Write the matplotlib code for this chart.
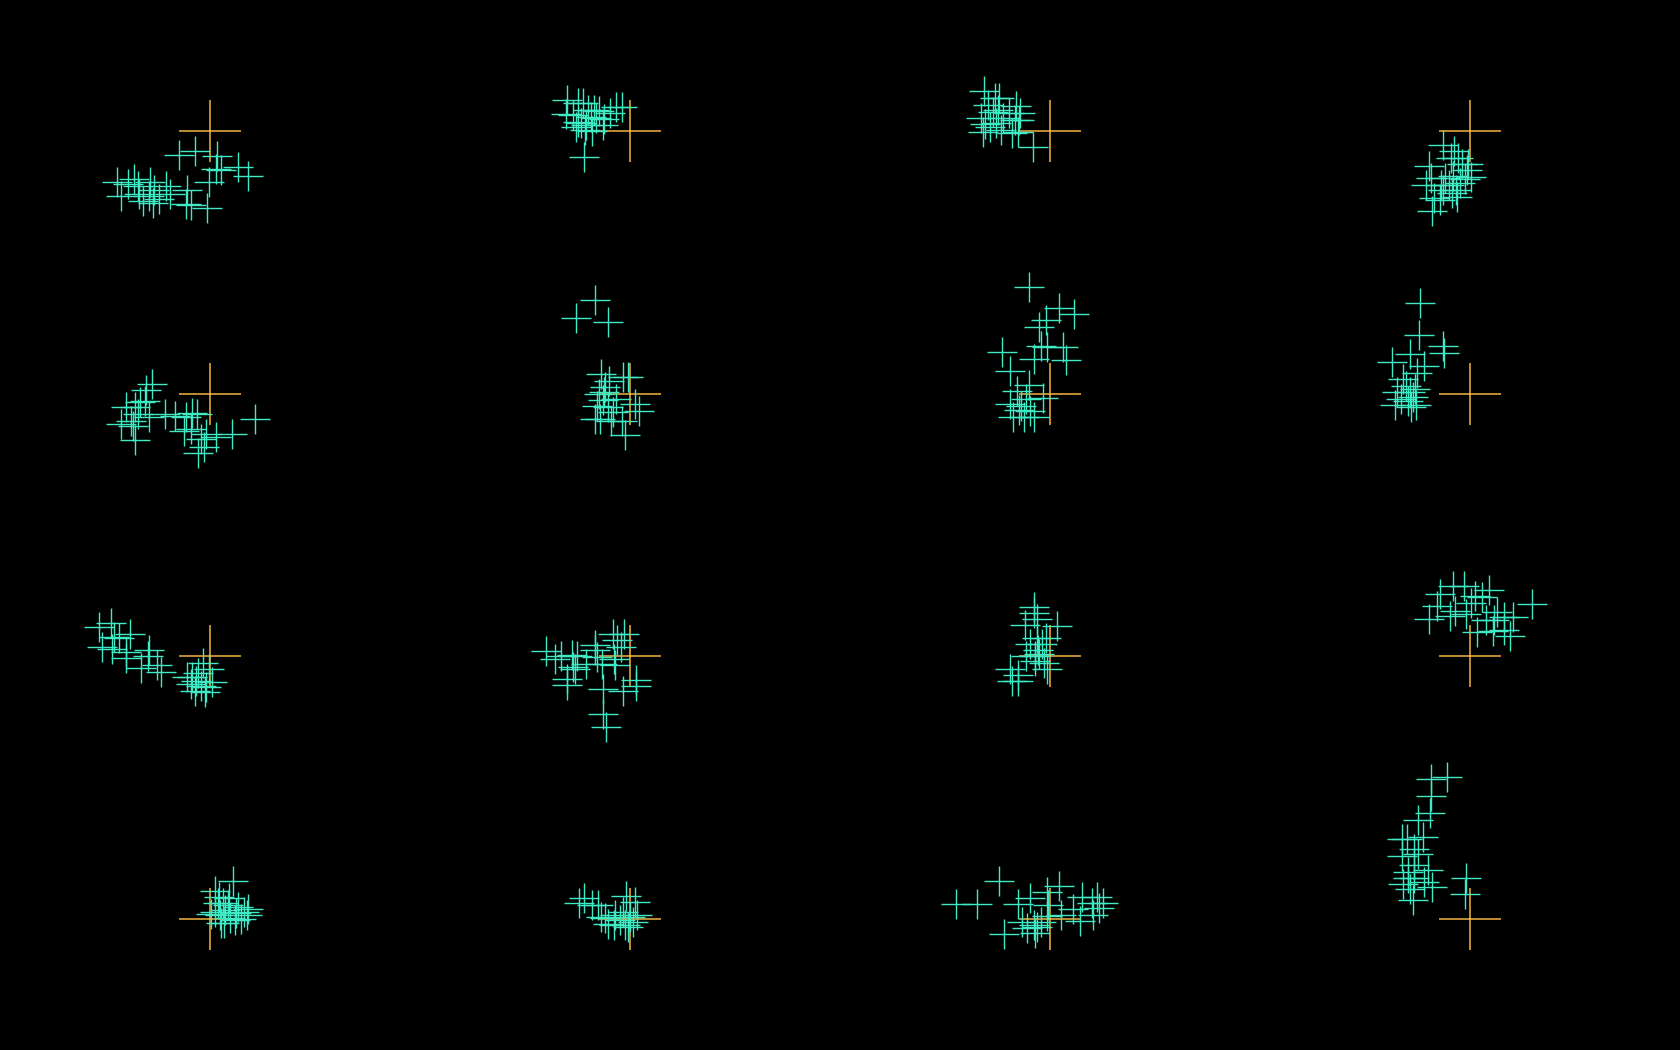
import matplotlib

matplotlib.use('agg')
import matplotlib.pyplot as plt
import numpy as np

# offsets of the hits from the target point (pixels), one list per panel
hits_r0c0 = [(-31, -24), (-15, -20), (7, -25), (6, -38), (11, -39), (28, -36), (38, -45),
             (-1, -51), (-23, -59), (-24, -73), (-19, -74), (-3, -77), (-93, -51), (-82, -53),
             (-76, -48), (-72, -55), (-60, -51), (-56, -59), (-44, -55), (-40, -63), (-89, -65),
             (-67, -70), (-61, -65), (-57, -72), (-51, -68), (-71, -63)]
hits_r0c1 = [(-46, -26), (-63, 31), (-64, 17), (-52, 28), (-47, 28), (-42, 21), (-36, 21),
             (-31, 20), (-14, 24), (-8, 24), (-20, 18), (-26, 12), (-49, 8), (-44, 6), (-38, 0),
             (-52, 9), (-54, 4), (-34, 13), (-27, 6), (-45, 1), (-57, 16), (-39, 14)]
hits_r0c2 = [(-17, -16), (-66, 40), (-55, 33), (-62, 26), (-51, 33), (-69, 13), (-65, 7),
             (-57, 19), (-52, 21), (-49, 1), (-38, -2), (-41, 18), (-34, 25), (-35, 11),
             (-31, 11), (-32, -1), (-60, 4), (-47, 13), (-30, 18), (-54, 8), (-67, -1)]
hits_r0c3 = [(-27, -14), (-16, -20), (-19, -27), (-12, -27), (-8, -33), (-2, -33), (1, -46),
             (-41, -35), (-44, -54), (-39, -47), (-29, -54), (-25, -47), (-21, -54), (-17, -45),
             (-14, -59), (-10, -52), (-38, -80), (-36, -67), (-30, -69), (-18, -62), (-13, -66),
             (-5, -48), (-3, -39), (-27, -59)]
hits_r1c0 = [(45, -25), (22, -40), (6, -43), (-6, -53), (-12, -59), (-18, -19), (-13, -20),
             (-24, -23), (-35, -22), (-45, -20), (-26, -37), (-19, -35), (-9, -45), (-4, -40),
             (-58, 10), (-64, 4), (-70, -8), (-75, -13), (-72, -20), (-79, -27), (-89, -30),
             (-75, -46), (-61, -23), (-65, -7), (-77, -32), (-84, -13)]
hits_r1c1 = [(-35, 94), (-54, 76), (-22, 72), (-29, 20), (-7, 17), (-2, 17), (-25, 7), (-31, 0),
             (-27, -6), (5, -10), (9, -17), (-35, -25), (-30, -25), (-19, -27), (-5, -41),
             (-8, -27), (-22, -13), (-17, -18), (-33, -12), (-21, 13), (-14, -5), (-26, 2)]
hits_r1c2 = [(-21, 107), (9, 86), (24, 80), (-4, 74), (-11, 67), (-48, 42), (-16, 35), (-9, 48),
             (-3, 47), (13, 47), (16, 34), (-40, 23), (-21, 9), (-7, -4), (-33, 3), (-40, -10),
             (-31, -16), (-26, -23), (-37, -23), (-16, -23), (-24, -5), (-29, -12), (-20, -17)]
hits_r1c3 = [(-50, 91), (-51, 59), (-27, 48), (-26, 41), (-78, 32), (-60, 40), (-46, 28),
             (-53, 21), (-73, 2), (-69, -5), (-64, 8), (-60, 2), (-57, -3), (-54, -11),
             (-67, 15), (-59, -13), (-75, -11), (-62, -7), (-55, 5)]
hits_r2c0 = [(-111, 29), (-99, 33), (-96, 19), (-80, 22), (-91, 18), (-108, 9), (-98, 7),
             (-84, -2), (-61, 6), (-62, 0), (-53, -9), (-69, -12), (-49, -16), (-84, 4),
             (-23, -21), (-18, -21), (-7, -7), (-1, -13), (2, -26), (-9, -30), (-5, -36),
             (-15, -35), (-12, -17), (-19, -28), (-14, -25), (-4, -31)]
hits_r2c1 = [(-24, -71), (-27, -33), (-27, -58), (-7, -35), (6, -30), (6, -24), (-84, 5),
             (-75, -3), (-69, 0), (-58, 1), (-53, 0), (-63, -23), (-63, -29), (-55, -13),
             (-57, -11), (-35, 11), (-33, -1), (-28, -8), (-17, 22), (-13, 16), (-9, 9),
             (-6, 22), (-16, -3), (-35, 6), (-44, -8), (-15, -9)]
hits_r2c2 = [(-16, 49), (-16, 43), (-13, 37), (-25, 31), (7, 30), (-13, 18), (-20, 12), (-8, 12),
             (-4, 18), (-12, 6), (-15, 0), (-24, 0), (-6, -7), (-3, -13), (-40, -13), (-32, -19),
             (-38, -25), (-32, -25), (-15, -5), (-11, 2)]
hits_r2c3 = [(62, 52), (-17, 70), (-6, 70), (-30, 62), (19, 66), (5, 60), (12, 59), (-41, 37),
             (-33, 50), (-15, 45), (-20, 40), (-4, 42), (1, 53), (7, 24), (16, 36), (27, 44),
             (34, 39), (43, 39), (23, 25), (34, 26), (40, 20), (24, 36)]
hits_r3c0 = [(23, 38), (5, 28), (9, 22), (13, 16), (19, 21), (38, 10), (37, 4), (28, 12), (34, 7),
             (14, -4), (20, 1), (25, -1), (10, 4), (15, 9), (5, 7), (26, 6), (18, 14), (8, 16),
             (11, -4), (1, 5), (31, 0)]
hits_r3c1 = [(-51, 16), (-46, 21), (-38, 14), (-32, 14), (-4, 23), (5, 17), (-29, 2), (-22, -5),
             (-15, 4), (-10, -1), (-5, -6), (0, 2), (3, -3), (7, 4), (-16, -6), (-7, 7),
             (-25, 1), (-2, -8)]
hits_r3c2 = [(-94, 15), (-73, 15), (-51, 38), (-46, -15), (-32, 15), (-20, 21), (-3, 27), (9, 33),
             (-23, -9), (-16, -6), (-13, -8), (-15, -14), (-3, 3), (11, 4), (23, 10), (30, -2),
             (32, 22), (42, 16), (47, 22), (49, 11), (53, 16), (43, 4), (-9, -3), (-28, -3),
             (-2, 14)]
hits_r3c3 = [(-23, 142), (-39, 140), (-39, 123), (-40, 106), (-52, 99), (-63, 80), (-68, 80),
             (-47, 82), (-56, 70), (-68, 63), (-52, 65), (-42, 49), (-62, 41), (-67, 35),
             (-57, 19), (-38, 32), (-46, 37), (-60, 30), (-56, 41), (-62, 47), (-4, 41),
             (-5, 25), (-56, 54)]

panels = [
    [hits_r0c0, hits_r0c1, hits_r0c2, hits_r0c3],
    [hits_r1c0, hits_r1c1, hits_r1c2, hits_r1c3],
    [hits_r2c0, hits_r2c1, hits_r2c2, hits_r2c3],
    [hits_r3c0, hits_r3c1, hits_r3c2, hits_r3c3],
]

fig, axes = plt.subplots(4, 4, figsize=(16.8, 10.5), dpi=100)
fig.patch.set_facecolor('black')
fig.subplots_adjust(left=0, right=1, bottom=0, top=1, wspace=0, hspace=0)

for r in range(4):
    for c in range(4):
        ax = axes[r][c]
        ax.set_facecolor('black')
        pts = np.array(panels[r][c], dtype=float)
        ax.plot([0], [0], '+', color='#f2b441', markersize=44, mew=1.1, zorder=1,
                clip_on=False)
        ax.plot(pts[:, 0], pts[:, 1], '+', color='#3febc4', markersize=22, mew=1.0,
                linestyle='none', zorder=2, clip_on=False)
        ax.set_xlim(-210, 210)
        ax.set_ylim(-131.25, 131.25)
        ax.axis('off')

plt.savefig('out.png', facecolor='black')
plt.close()
